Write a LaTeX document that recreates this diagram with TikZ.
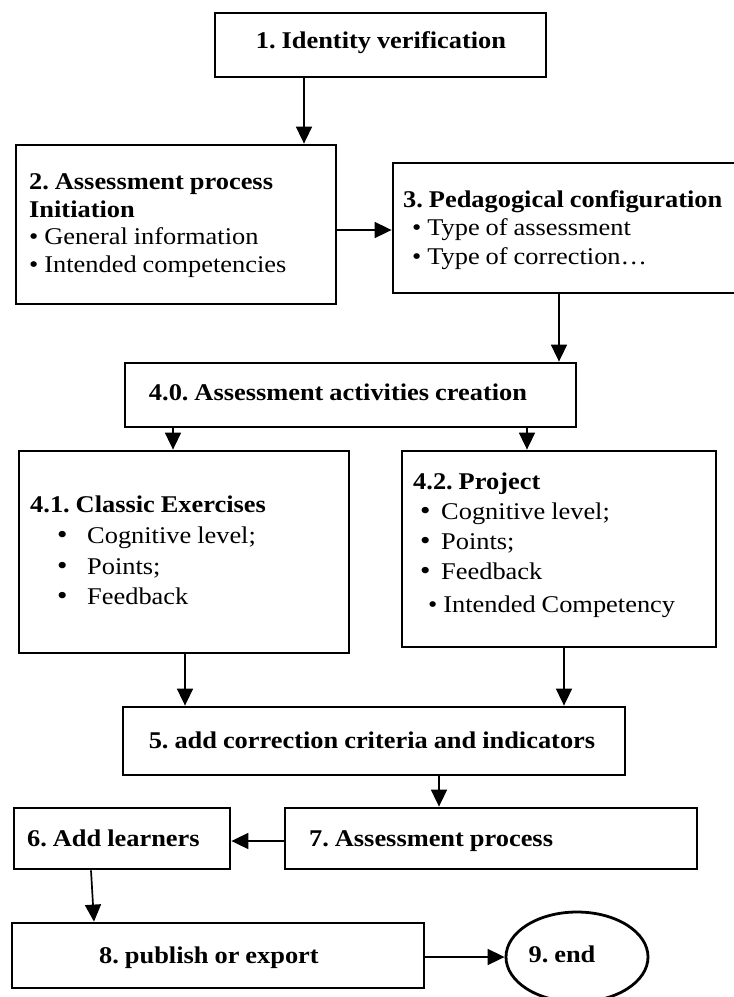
\documentclass[tikz,border=0pt]{standalone}
\usepackage{fontspec}
\setmainfont{Liberation Serif}[FakeStretch=1.1,WordSpace=0.9]
\usetikzlibrary{arrows.meta,shapes.geometric,calc}
\newcommand{\bigbul}{{\fontsize{27}{27}\selectfont\textbullet}}
\frenchspacing
\begin{document}
\begin{tikzpicture}[x=1pt,y=-1pt,
  box/.style={draw=black, line width=2.8pt, rectangle, inner sep=0pt},
  endbox/.style={draw=black, line width=2.8pt, ellipse, inner sep=0pt},
  arr/.style={draw=black, line width=1.7pt, -{Triangle[length=17pt,width=16pt]}},
  txt/.style={anchor=base west, inner sep=0pt, font=\fontsize{24}{28}\selectfont\frenchspacing},
  btxt/.style={anchor=base west, inner sep=0pt, font=\fontsize{24}{28}\selectfont\bfseries\frenchspacing},
  ctxt/.style={inner sep=0pt, font=\fontsize{24}{28}\selectfont\bfseries\frenchspacing}
]
\useasboundingbox (0,0) rectangle (734,997);
\fill[white] (0,0) rectangle (734,997);

% boxes
\node[box, minimum width=331pt, minimum height=64pt] (b1) at (380.5,45) {};
\node[box, minimum width=320pt, minimum height=159pt] (b2) at (176,224.5) {};
\node[box, minimum width=347pt, minimum height=130pt] (b3) at (566.5,228) {};
\node[box, minimum width=451pt, minimum height=64pt] (b40) at (350.5,395) {};
\node[box, minimum width=330pt, minimum height=202pt] (b41) at (184,552) {};
\node[box, minimum width=314pt, minimum height=196pt] (b42) at (559,549) {};
\node[box, minimum width=502pt, minimum height=68pt] (b5) at (374,741) {};
\node[box, minimum width=216pt, minimum height=61pt] (b6) at (122,838.5) {};
\node[box, minimum width=412pt, minimum height=61pt] (b7) at (491,838.5) {};
\node[box, minimum width=412pt, minimum height=65pt] (b8) at (218,955.5) {};
\node[endbox, minimum width=142pt, minimum height=90pt] (e9) at (577,957) {};

% texts
\node[ctxt] (t1) at (381,43) {1. Identity verification};

\node[btxt] (t2a) at (29,189) {2. Assessment process};
\node[btxt] (t2b) at (29,217) {Initiation};
\node[txt] (t2c) at (29,244) {\textbullet\ General information};
\node[txt] (t2d) at (29,272) {\textbullet\ Intended competencies};

\node[btxt] (t3a) at (403,207) {3. Pedagogical configuration};
\node[txt] (t3b) at (412,235) {\textbullet\ Type of assessment};
\node[txt] (t3c) at (412,264) {\textbullet\ Type of correction\ldots};

\node[ctxt] (t40) at (338,392) {4.0. Assessment activities creation};

\node[btxt] (t41a) at (30,512) {4.1. Classic Exercises};
\node[txt] (t41b) at (57,543) {\makebox[30pt][l]{\bigbul}Cognitive level;};
\node[txt] (t41c) at (57,574) {\makebox[30pt][l]{\bigbul}Points;};
\node[txt] (t41d) at (57,604) {\makebox[30pt][l]{\bigbul}Feedback};

\node[btxt] (t42a) at (413,489) {4.2. Project};
\node[txt] (t42b) at (420,519) {\makebox[21pt][l]{\bigbul}Cognitive level;};
\node[txt] (t42c) at (420,549) {\makebox[21pt][l]{\bigbul}Points;};
\node[txt] (t42d) at (420,579) {\makebox[21pt][l]{\bigbul}Feedback};
\node[txt] (t42e) at (428,612) {\textbullet\ Intended Competency};

\node[ctxt] (t5) at (372,740) {5. add correction criteria and indicators};
\node[btxt] (t6) at (27,846) {6. Add learners};
\node[btxt] (t7) at (309,846) {7. Assessment process};
\node[ctxt] (t8) at (209,958) {8. publish or export};
\node[ctxt] (t9) at (562,954) {9. end};

% connector guide coordinates
\coordinate (x1) at (304,0);
\coordinate (y2) at (0,230);
\coordinate (x3) at (559,0);
\coordinate (x4) at (173,0);
\coordinate (x5) at (527,0);
\coordinate (x6) at (185,0);
\coordinate (x7) at (564,0);
\coordinate (x8) at (439,0);
\coordinate (y9) at (0,841);
\coordinate (p6) at (91,0);
\coordinate (p8) at (94,0);
\coordinate (y11) at (0,957);

% connectors
\draw[arr] (b1.south -| x1) -- (b2.north -| x1);
\draw[arr] (b2.east |- y2) -- (b3.west |- y2);
\draw[arr] (b3.south -| x3) -- (b40.north -| x3);
\draw[arr] (b40.south -| x4) -- (b41.north -| x4);
\draw[arr] (b40.south -| x5) -- (b42.north -| x5);
\draw[arr] (b41.south -| x6) -- (b5.north -| x6);
\draw[arr] (b42.south -| x7) -- (b5.north -| x7);
\draw[arr] (b5.south -| x8) -- (b7.north -| x8);
\draw[arr] (b7.west |- y9) -- (b6.east |- y9);
\draw[arr] (b6.south -| p6) -- (b8.north -| p8);
\draw[arr] (b8.east |- y11) -- (e9.west |- y11);
\end{tikzpicture}
\end{document}
